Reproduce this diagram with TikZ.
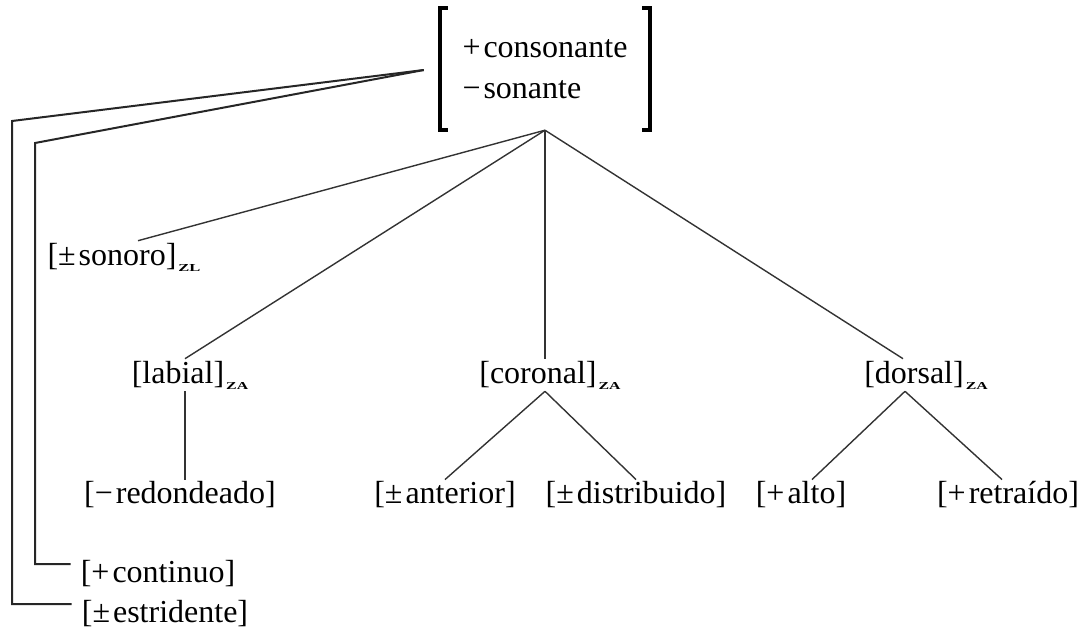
\documentclass[tikz,border=0pt]{standalone}
\usepackage{fontspec}
\setmainfont{Liberation Serif}
\usepackage{graphicx}
\usepackage{tikz}
\usetikzlibrary{positioning}

% subindice de zona (ZL, ZA)
\newcommand{\zona}[1]{\kern2pt\raisebox{-6pt}{\resizebox{22pt}{7pt}{\textbf{#1}}}}
% signo del rasgo con su espacio
\newcommand{\sg}[1]{#1\kern3pt}

\begin{document}
\begin{tikzpicture}[x=1pt, y=-1pt, font=\fontsize{32}{41}\selectfont,
    feat/.style={inner sep=2pt},
    rama/.style={line width=1.4pt, draw=black!80},
    gancho/.style={line width=2pt, draw=black!85},
    corchete/.style={line width=3.5pt}]
  \useasboundingbox (0,0) rectangle (1091,632);

  % raiz
  \node[minimum width=210pt, minimum height=122pt, align=left, inner sep=0pt] (top) at (545,69) {\sg{+}consonante\\\sg{−}sonante};
  \draw[corchete] ([xshift=8pt]top.north west) -| (top.south west) -- ([xshift=8pt]top.south west);
  \draw[corchete] ([xshift=-8pt]top.north east) -| (top.south east) -- ([xshift=-8pt]top.south east);
  \coordinate (hub) at ([xshift=-16pt,yshift=-1pt]top.west);

  % rasgos
  \node[feat] (sonoro) at (124,257) {[\sg{±}sonoro]\zona{ZL}};
  \node[feat] (labial) at (190,375) {[labial]\zona{ZA}};
  \node[feat] (coronal) at (550,375) {[coronal]\zona{ZA}};
  \node[feat] (dorsal) at (926,375) {[dorsal]\zona{ZA}};

  \node[feat] (redond) at (180,495) {[\sg{−}redondeado]};
  \node[feat] (anterior) at (445,495) {[\sg{±}anterior]};
  \node[feat] (distrib) at (636,495) {[\sg{±}distribuido]};
  \node[feat] (alto) at (801,495) {[\sg{+}alto]};
  \node[feat] (retraido) at (1008,495) {[\sg{+}retraído]};

  \node[feat] (continuo) at (158,574) {[\sg{+}continuo]};
  \node[feat] (estrid) at (165,614) {[\sg{±}estridente]};

  % ramas
  \draw[rama] (top.south) -- ([xshift=14pt]sonoro.north);
  \draw[rama] (top.south) -- ([xshift=-5pt]labial.north);
  \draw[rama] (top.south) -- ([xshift=-5pt]coronal.north);
  \draw[rama] (top.south) -- ([xshift=-23pt]dorsal.north);
  \draw[rama] ([xshift=-5pt]labial.south) -- ([xshift=-5pt]labial.south |- redond.north);
  \draw[rama] ([xshift=-5pt]coronal.south) -- (anterior.north);
  \draw[rama] ([xshift=-5pt]coronal.south) -- (distrib.north);
  \draw[rama] ([xshift=-21pt]dorsal.south) -- ([xshift=11pt]alto.north);
  \draw[rama] ([xshift=-21pt]dorsal.south) -- ([xshift=-6pt]retraido.north);

  % lineas de los rasgos sin nudo
  \draw[gancho] (hub) -- (12,121) |- ([xshift=-8pt,yshift=10pt]estrid.west);
  \draw[gancho] (hub) -- (35,143) |- ([xshift=-8pt,yshift=10pt]continuo.west);
\end{tikzpicture}
\end{document}
